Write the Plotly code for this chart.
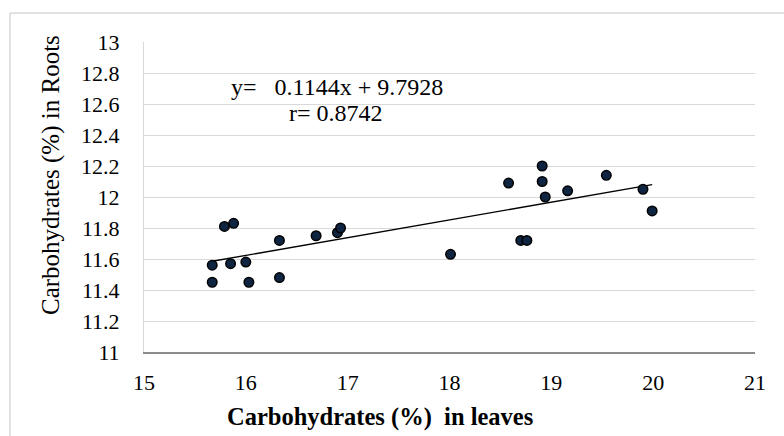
import plotly.graph_objects as go

# Data
leaves = [15.67, 15.67, 15.79, 15.88, 15.85, 16.00, 16.03, 16.33, 16.33, 16.69, 16.90, 16.93,
          18.01, 18.58, 18.70, 18.76, 18.91, 18.91, 18.94, 19.16, 19.54, 19.90, 19.99]
roots = [11.56, 11.45, 11.81, 11.83, 11.57, 11.58, 11.45, 11.72, 11.48, 11.75, 11.77, 11.80,
         11.63, 12.09, 11.72, 11.72, 12.20, 12.10, 12.00, 12.04, 12.14, 12.05, 11.91]
slope = 0.1144
intercept = 9.7928
r_value = 0.8742
x_ticks = [15, 16, 17, 18, 19, 20, 21]
y_ticks = [11, 11.2, 11.4, 11.6, 11.8, 12, 12.2, 12.4, 12.6, 12.8, 13]

FONT = "Liberation Serif, Times New Roman, serif"

trend_x = [min(leaves), max(leaves)]
trend_y = [slope * v + intercept for v in trend_x]

fig = go.Figure()
fig.add_trace(go.Scatter(x=trend_x, y=trend_y, mode="lines",
                         line=dict(color="black", width=1.3), showlegend=False,
                         hoverinfo="skip"))
fig.add_trace(go.Scatter(x=leaves, y=roots, mode="markers",
                         marker=dict(size=9.5, color="#0f2440",
                                     line=dict(color="black", width=1.5)),
                         showlegend=False))

fig.update_layout(
    width=784, height=436,
    margin=dict(l=144, r=29, t=42, b=84),
    paper_bgcolor="white", plot_bgcolor="white",
    font=dict(family=FONT, size=22, color="black"),
    xaxis=dict(range=[15, 21], tickvals=x_ticks, ticktext=[str(v) for v in x_ticks],
               showgrid=False, zeroline=False, showline=True, linecolor="#8c8c8c",
               linewidth=1.5, ticks="", ticklabelstandoff=10,
               tickfont=dict(family=FONT, size=22, color="black")),
    yaxis=dict(range=[11, 13], tickvals=y_ticks, ticktext=[f"{v:g}" for v in y_ticks],
               showgrid=True, gridcolor="#d9d9d9", gridwidth=1.2, zeroline=False,
               showline=True, linecolor="#d9d9d9", linewidth=1, ticks="",
               ticklabelstandoff=19,
               tickfont=dict(family=FONT, size=22, color="black")),
    annotations=[
        dict(text="Carbohydrates (%) in Roots", textangle=-90, xref="paper", yref="paper",
             x=(51 - 144) / 611, y=(352 - 175) / 310, showarrow=False,
             xanchor="center", yanchor="middle",
             font=dict(family=FONT, size=25, color="black")),
        dict(text="<b>Carbohydrates (%)\u00a0 in leaves</b>", xref="paper", yref="paper",
             x=(380 - 144) / 611, y=(352 - 417) / 310, showarrow=False,
             xanchor="center", yanchor="middle",
             font=dict(family=FONT, size=24.5, color="black")),
        dict(text=f"y=\u00a0\u00a0 {slope}x + {intercept}", xref="x", yref="y",
             x=15.835, y=12.71, showarrow=False, xanchor="left", yanchor="middle",
             font=dict(family=FONT, size=24, color="black")),
        dict(text=f"r= {r_value}", xref="x", yref="y",
             x=16.405, y=12.54, showarrow=False, xanchor="left", yanchor="middle",
             font=dict(family=FONT, size=24, color="black")),
    ],
    shapes=[
        dict(type="line", xref="paper", yref="paper",
             x0=(10 - 144) / 611, x1=(10 - 144) / 611,
             y0=(352 - 13) / 310, y1=(352 - 440) / 310,
             line=dict(color="#d9d9d9", width=1.5)),
        dict(type="line", xref="paper", yref="paper",
             x0=(10 - 144) / 611, x1=(790 - 144) / 611,
             y0=(352 - 13) / 310, y1=(352 - 13) / 310,
             line=dict(color="#d9d9d9", width=1.5)),
    ],
)

fig.write_html("out.html")
